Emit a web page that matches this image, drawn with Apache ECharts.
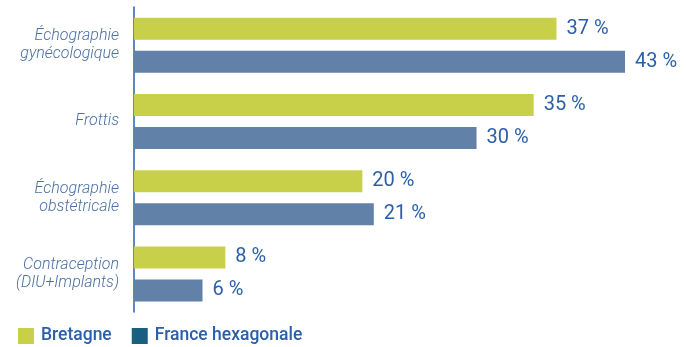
<!DOCTYPE html>
<html>
<head>
<meta charset="utf-8">
<script src="https://cdn.jsdelivr.net/npm/echarts@6/dist/echarts.min.js"></script>
<style>
  html, body { margin: 0; padding: 0; background: #fff; }
  #chart { width: 686px; height: 347px; }
</style>
</head>
<body>
<div id="chart"></div>
<script>
// Examens par catégorie, en % des actes
const categories = ['Échographie\ngynécologique', 'Frottis', 'Échographie\nobstétricale', 'Contraception\n(DIU+Implants)'];
const bretagne = [37, 35, 20, 8];
const franceHexagonale = [43, 30, 21, 6];

const seriesNames = ['Bretagne', 'France hexagonale'];
const barColors = ['#c8cf49', '#6281a8'];
const legendColors = ['#c8cf49', '#1b5f80'];
const textBlue = '#2b5fa9';

const chart = echarts.init(document.getElementById('chart'), null, { renderer: 'canvas' });

const valueLabel = {
  show: true,
  position: 'right',
  distance: 10,
  formatter: p => p.value + ' %',
  color: textBlue,
  fontFamily: 'Roboto',
  fontWeight: 400,
  fontSize: 20
};

chart.setOption({
  animation: false,
  grid: { left: 134, top: 7, width: 491, height: 305, containLabel: false },
  legend: {
    left: 13,
    top: 322,
    itemWidth: 16,
    itemHeight: 16,
    itemGap: 20,
    icon: 'rect',
    textStyle: { color: textBlue, fontFamily: 'Roboto', fontWeight: 500, fontSize: 17.5, padding: [0, 0, 0, 2] },
    data: seriesNames.map((n, i) => ({ name: n, itemStyle: { color: legendColors[i] } }))
  },
  xAxis: {
    type: 'value',
    min: 0,
    max: 43,
    show: false
  },
  yAxis: {
    type: 'category',
    inverse: true,
    data: categories,
    axisLine: { show: true, lineStyle: { color: textBlue, width: 1.5 } },
    axisTick: { show: false },
    axisLabel: {
      margin: 15,
      color: '#4a6fa3',
      fontFamily: 'Roboto',
      fontStyle: 'italic',
      fontWeight: 300,
      fontSize: 16,
      lineHeight: 18,
      padding: [0, 0, 7, 0]
    }
  },
  series: [
    {
      name: seriesNames[0],
      type: 'bar',
      data: bretagne,
      barWidth: 22,
      barGap: '50%',
      itemStyle: { color: barColors[0] },
      label: valueLabel
    },
    {
      name: seriesNames[1],
      type: 'bar',
      data: franceHexagonale,
      barWidth: 22,
      barGap: '50%',
      itemStyle: { color: barColors[1] },
      label: valueLabel
    }
  ]
});
</script>
</body>
</html>
